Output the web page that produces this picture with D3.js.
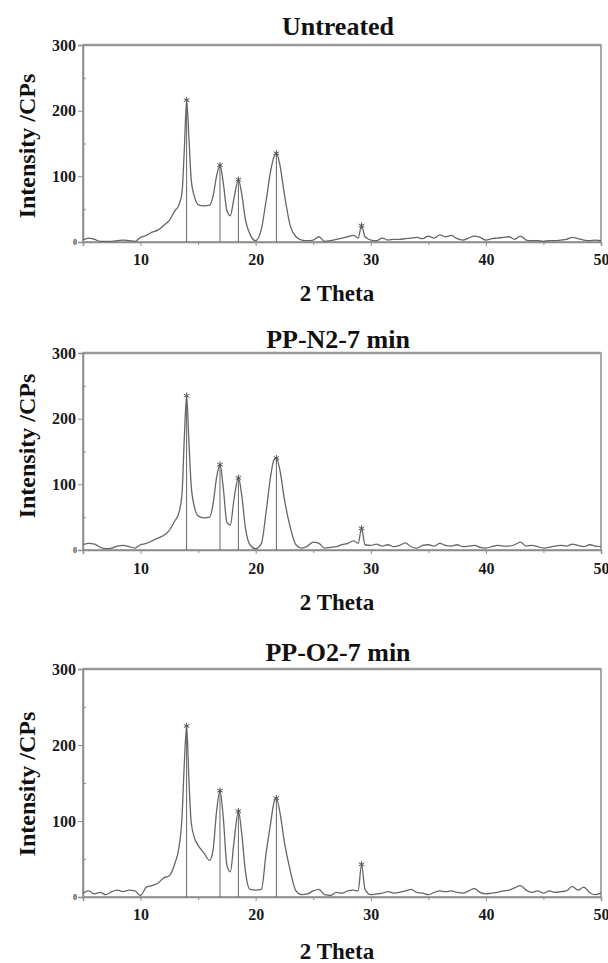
<!DOCTYPE html>
<html>
<head>
<meta charset="utf-8">
<script src="https://cdn.jsdelivr.net/npm/d3@7"></script>
<style>
  html, body { margin: 0; padding: 0; background: #fff; }
  svg { display: block; }
</style>
</head>
<body>
<svg id="chart" width="608" height="963"></svg>
<script>
// ---------- DATA ----------
const twoTheta = [5, 5.5, 6, 6.5, 7, 7.5, 8, 8.5, 9, 9.5, 10, 10.5, 11, 11.5, 12, 12.5, 13, 13.3, 13.6, 13.8,
  14, 14.2, 14.4, 14.7, 15, 15.5, 16, 16.3, 16.6, 16.9, 17.2, 17.5, 17.8, 18.1, 18.5, 18.8, 19.1, 19.5, 20, 20.5,
  20.9, 21.3, 21.6, 21.8, 22.1, 22.5, 23, 23.5, 24, 24.5, 25, 25.5, 26, 26.5, 27, 27.5, 28, 28.5, 28.9, 29.2,
  29.5, 30, 30.5, 31, 31.5, 32, 32.5, 33, 33.5, 34, 34.5, 35, 35.5, 36, 36.5, 37, 37.5, 38, 38.5, 39,
  39.5, 40, 40.5, 41, 41.5, 42, 42.5, 43, 43.5, 44, 44.5, 45, 45.5, 46, 46.5, 47, 47.5, 48, 48.5, 49, 49.5, 50];

const untreated = [3, 6, 4, 1, 1, 1, 2, 3, 2, 1, 7, 10, 15, 18, 25, 33, 48, 55, 75, 140,
  216, 160, 95, 68, 57, 55, 56, 70, 100, 117, 88, 48, 40, 65, 95, 72, 35, 12, 2, 20,
  62, 108, 130, 135, 118, 72, 25, 8, 3, 2, 3, 8, 1, 2, 4, 6, 8, 10, 6, 25,
  8, 3, 2, 6, 3, 4, 4, 5, 6, 7, 5, 9, 6, 11, 8, 10, 5, 3, 6, 9,
  7, 3, 5, 6, 7, 8, 4, 9, 3, 2, 2, 1, 2, 2, 3, 4, 7, 5, 3, 2, 3, 2];

const ppN2 = [8, 10, 9, 4, 2, 3, 6, 7, 5, 3, 8, 10, 14, 18, 22, 30, 45, 55, 85, 170,
  235, 165, 98, 64, 52, 49, 50, 70, 110, 130, 92, 42, 38, 75, 110, 82, 35, 8, 2, 10,
  57, 112, 138, 140, 122, 77, 35, 8, 3, 6, 12, 10, 3, 4, 5, 8, 10, 14, 10, 33,
  8, 7, 9, 6, 8, 5, 7, 11, 5, 3, 7, 8, 6, 10, 7, 6, 8, 5, 6, 7,
  4, 3, 5, 7, 6, 6, 8, 12, 6, 7, 5, 3, 4, 6, 7, 6, 9, 7, 5, 8, 6, 5];

const ppO2 = [5, 8, 4, 6, 3, 7, 9, 7, 9, 8, 2, 13, 15, 18, 25, 28, 45, 62, 105, 175,
  225, 155, 98, 77, 68, 58, 48, 62, 112, 140, 102, 42, 33, 70, 113, 82, 35, 10, 9, 10,
  57, 97, 125, 130, 112, 72, 35, 8, 3, 4, 8, 10, 3, 2, 6, 5, 8, 9, 8, 43,
  10, 3, 4, 5, 7, 5, 6, 8, 10, 6, 5, 3, 6, 8, 7, 8, 6, 5, 8, 11,
  6, 4, 5, 6, 8, 9, 12, 15, 9, 6, 8, 5, 8, 6, 7, 8, 14, 9, 13, 6, 3, 5];

const panelTitles = ["Untreated", "PP-N2-7 min", "PP-O2-7 min"];
const xTicks = [10, 20, 30, 40, 50];
const xMinorTicks = [15, 25, 35, 45];
const yTicks = [100, 200, 300];
const yMinorTicks = [50, 150, 250];
const dropLinePeaks = [14, 16.9, 18.5, 21.8];
const starredPeaks = [14, 16.9, 18.5, 21.8, 29.2];
const xLabel = "2 Theta";
const yLabel = "Intensity /CPs";

// ---------- LAYOUT ----------
const series = [untreated, ppN2, ppO2];
const layouts = [
  { top: 45,  bottom: 242, titleY: 35,  tickY: 265, xLabelY: 301, yLabelY: 146 },
  { top: 353, bottom: 550, titleY: 348, tickY: 574, xLabelY: 610, yLabelY: 446 },
  { top: 669, bottom: 897, titleY: 661, tickY: 920, xLabelY: 959, yLabelY: 784 }
];
const left = 83, right = 601;
const font = "'Liberation Serif', 'Times New Roman', serif";
const curveColor = "#666";
const frameColor = "#8c8c8c";

const svg = d3.select("#chart");
const x = d3.scaleLinear().domain([5, 50]).range([left, right]);

series.forEach((vals, i) => {
  const L = layouts[i];
  const y = d3.scaleLinear().domain([0, 300]).range([L.bottom, L.top]);
  const g = svg.append("g");
  const pts = twoTheta.map((t, k) => ({ t, v: vals[k] }));

  // frame
  g.append("rect")
    .attr("x", left).attr("y", L.top)
    .attr("width", right - left).attr("height", L.bottom - L.top)
    .attr("fill", "none").attr("stroke", frameColor).attr("stroke-width", 1.5);
  g.append("line")
    .attr("x1", left).attr("x2", right).attr("y1", L.top).attr("y2", L.top)
    .attr("stroke", "#999").attr("stroke-width", 2.5);

  // y axis major (outside) and minor (inside)
  const yAx = g.append("g").attr("transform", `translate(${left},0)`)
    .call(d3.axisLeft(y).tickValues(yTicks).tickSize(5).tickPadding(2));
  yAx.select(".domain").attr("stroke", frameColor).attr("stroke-width", 1.5);
  yAx.selectAll(".tick line").attr("stroke", frameColor);
  yAx.selectAll(".tick text")
    .attr("font-family", font).attr("font-weight", "bold").attr("font-size", 16).attr("fill", "#1a1a1a");
  const yMin = g.append("g").attr("transform", `translate(${left},0)`)
    .call(d3.axisRight(y).tickValues(yMinorTicks).tickSize(3).tickFormat(""));
  yMin.select(".domain").remove();
  yMin.selectAll(".tick line").attr("stroke", frameColor);

  // tiny zero label
  g.append("text").attr("x", left - 6).attr("y", y(0) + 3)
    .attr("text-anchor", "end").attr("font-family", font).attr("font-weight", "bold")
    .attr("font-size", 8).attr("fill", "#444").text("0");

  // x axis
  const xAx = g.append("g").attr("transform", `translate(0,${L.bottom})`)
    .call(d3.axisBottom(x).tickValues(xTicks).tickSize(4).tickPadding(0).tickFormat(d3.format("d")));
  xAx.select(".domain").attr("stroke", frameColor).attr("stroke-width", 1.5);
  xAx.selectAll(".tick line").attr("stroke", frameColor);
  xAx.selectAll(".tick text")
    .attr("y", L.tickY - L.bottom).attr("dy", 0)
    .attr("font-family", font).attr("font-weight", "bold").attr("font-size", 16).attr("fill", "#1a1a1a");
  const xMin = g.append("g").attr("transform", `translate(0,${L.bottom})`)
    .call(d3.axisBottom(x).tickValues(xMinorTicks).tickSize(3).tickFormat(""));
  xMin.select(".domain").remove();
  xMin.selectAll(".tick line").attr("stroke", frameColor);

  // drop lines
  const valAt = t => vals[twoTheta.indexOf(t)];
  g.selectAll(".drop").data(dropLinePeaks).enter().append("line")
    .attr("x1", d => x(d)).attr("x2", d => x(d))
    .attr("y1", d => y(valAt(d))).attr("y2", y(0))
    .attr("stroke", curveColor).attr("stroke-width", 1);

  // curve
  g.append("path").datum(pts)
    .attr("d", d3.line().curve(d3.curveMonotoneX).x(d => x(d.t)).y(d => y(d.v)))
    .attr("fill", "none").attr("stroke", curveColor).attr("stroke-width", 1.3)
    .attr("stroke-linejoin", "round");

  // star markers
  g.selectAll(".star").data(starredPeaks).enter().append("path")
    .attr("transform", d => `translate(${x(d)},${y(valAt(d))})`)
    .attr("d", d3.symbol(d3.symbolAsterisk, 28))
    .attr("fill", "none").attr("stroke", "#555").attr("stroke-width", 1);

  // title
  g.append("text").attr("x", 338).attr("y", L.titleY)
    .attr("text-anchor", "middle").attr("font-family", font).attr("font-weight", "bold")
    .attr("font-size", 26).attr("fill", "#111").text(panelTitles[i]);

  // x label
  g.append("text").attr("x", 337).attr("y", L.xLabelY)
    .attr("text-anchor", "middle").attr("font-family", font).attr("font-weight", "bold")
    .attr("font-size", 23).attr("fill", "#111").text(xLabel);

  // y label
  g.append("text")
    .attr("transform", `translate(35,${L.yLabelY}) rotate(-90)`)
    .attr("text-anchor", "middle").attr("font-family", font).attr("font-weight", "bold")
    .attr("font-size", 24).attr("fill", "#111").text(yLabel);
});
</script>
</body>
</html>
